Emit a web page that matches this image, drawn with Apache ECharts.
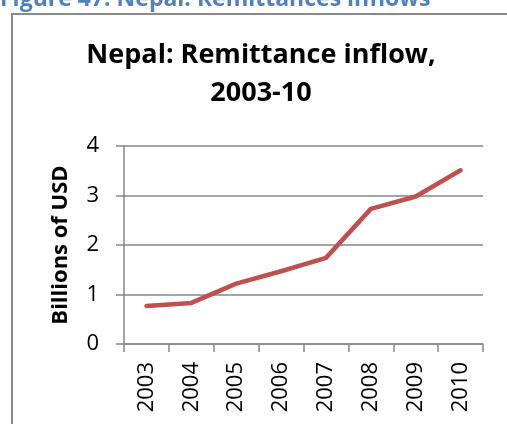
<!DOCTYPE html>
<html><head><meta charset="utf-8">
<script src="https://cdn.jsdelivr.net/npm/echarts@6/dist/echarts.min.js"></script>
<style>html,body{margin:0;padding:0;background:#fff}#c{width:507px;height:424px}</style>
</head><body><div id="c"></div>
<script>
const years = ['2003','2004','2005','2006','2007','2008','2009','2010'];
const remittance = [0.77, 0.83, 1.22, 1.47, 1.74, 2.73, 2.98, 3.51];
const yTicks = {min: 0, max: 4, interval: 1};
const captionText = 'Figure 47: Nepal: Remittances inflows';
const titleText = 'Nepal: Remittance inflow,\n2003-10';
const yAxisName = 'Billions of USD';

const FONT = 'Open Sans';
const chart = echarts.init(document.getElementById('c'), null, {renderer: 'canvas'});
chart.setOption({
  backgroundColor: '#fff',
  animation: false,
  textStyle: {fontFamily: FONT},
  title: {
    text: titleText,
    left: 261, top: 36, textAlign: 'center',
    padding: 0,
    textStyle: {fontFamily: FONT, fontSize: 27, fontWeight: 'bold', color: '#000', lineHeight: 38}
  },
  graphic: [
    {type: 'rect', shape: {x: 12, y: 14, width: 520, height: 440}, style: {fill: 'none', stroke: '#8a8a8a', lineWidth: 2}, z: -1},
    {type: 'text', x: 0, y: -1, style: {text: captionText, fontFamily: FONT, fontSize: 23, fontWeight: 'bold', fill: '#4F81BD', verticalAlign: 'middle', align: 'left'}}
  ],
  grid: {left: 124, right: 24, top: 146, bottom: 80, containLabel: false},
  xAxis: {
    type: 'category', data: years, boundaryGap: true,
    axisLine: {lineStyle: {color: '#868686', width: 1.5}},
    axisTick: {show: true, length: 8, lineStyle: {color: '#868686', width: 1.5}, alignWithLabel: false},
    axisLabel: {rotate: 90, margin: 18, color: '#000', fontFamily: FONT, fontSize: 22, interval: 0}
  },
  yAxis: {
    type: 'value', min: yTicks.min, max: yTicks.max, interval: yTicks.interval,
    name: yAxisName, nameLocation: 'middle', nameRotate: 90, nameGap: 52,
    nameTextStyle: {fontFamily: FONT, fontSize: 22, fontWeight: 'bold', color: '#000'},
    axisLine: {show: true, lineStyle: {color: '#868686', width: 1.5}},
    axisTick: {show: true, length: 8, lineStyle: {color: '#868686', width: 1.5}},
    splitLine: {show: true, lineStyle: {color: '#868686', width: 1.5}},
    axisLabel: {margin: 25, color: '#000', fontFamily: FONT, fontSize: 22}
  },
  series: [{
    type: 'line', data: remittance, symbol: 'none',
    lineStyle: {color: '#C0504D', width: 4.5, cap: 'round', join: 'round'}
  }]
});
</script></body></html>
